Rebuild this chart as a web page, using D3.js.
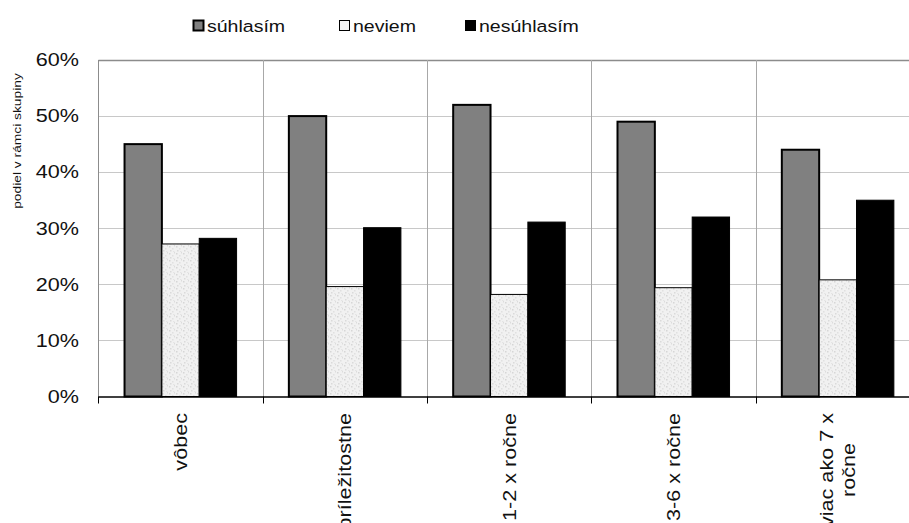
<!DOCTYPE html>
<html>
<head>
<meta charset="utf-8">
<script src="https://cdn.jsdelivr.net/npm/d3@7"></script>
<style>
  body { margin: 0; background: #fff; }
  svg { display: block; font-family: "Liberation Sans", Arial, sans-serif; }
</style>
</head>
<body>
<div id="chart"></div>
<script>
const categories = ['vôbec', 'príležitostne', '1-2 x ročne', '3-6 x ročne', 'viac ako 7 x\nročne'];
const seriesNames = ['súhlasím', 'neviem', 'nesúhlasím'];
const suhlasim = [45, 50, 52, 49, 44];
const neviem = [27.2, 19.6, 18.2, 19.4, 20.8];
const nesuhlasim = [28.2, 30.1, 31.1, 32, 35];
const yTicks = [0, 10, 20, 30, 40, 50, 60];

const width = 909, height = 523;
const plotL = 98.4, plotR = 920, plotT = 60, plotB = 396.5;
const stretch = 1.2; // the source text is drawn wide

const svg = d3.select('#chart').append('svg')
  .attr('width', width).attr('height', height);

// speckled light fill for "neviem"
const pat = svg.append('defs').append('pattern')
  .attr('id', 'speckle').attr('patternUnits', 'userSpaceOnUse')
  .attr('width', 7).attr('height', 7);
pat.append('rect').attr('width', 7).attr('height', 7).attr('fill', '#f1f1f1');
[[1, 1, '#d6d6d6'], [4, 3, '#e0e0e0'], [2, 5, '#dadada'], [5, 6, '#e4e4e4'], [6, 0, '#dcdcdc']]
  .forEach(([px, py, c]) => pat.append('rect').attr('x', px).attr('y', py)
    .attr('width', 1.5).attr('height', 1.5).attr('fill', c));

const series = [
  { name: seriesNames[0], values: suhlasim, fill: '#808080', stroke: '#000', sw: 2 },
  { name: seriesNames[1], values: neviem, fill: 'url(#speckle)', stroke: '#000', sw: 1 },
  { name: seriesNames[2], values: nesuhlasim, fill: '#000', stroke: '#000', sw: 1 },
];

const x0 = d3.scaleBand().domain(categories).range([plotL, plotR]).padding(0);
const x1 = d3.scaleBand().domain(seriesNames).range([0, x0.bandwidth()])
  .paddingInner(0).paddingOuter(0.7);
const y = d3.scaleLinear().domain([0, 60]).range([plotB, plotT]);

// horizontal gridlines
svg.append('g').selectAll('line').data(yTicks.filter(t => t > 0)).join('line')
  .attr('x1', plotL).attr('x2', plotR)
  .attr('y1', d => Math.round(y(d)) + 0.5).attr('y2', d => Math.round(y(d)) + 0.5)
  .attr('stroke', d => d === 60 ? '#8c8c8c' : '#c8c8c8').attr('stroke-width', d => d === 60 ? 1.5 : 1);

// vertical gridlines at category boundaries
svg.append('g').selectAll('line').data(categories.slice(1)).join('line')
  .attr('x1', d => Math.round(x0(d)) + 0.5).attr('x2', d => Math.round(x0(d)) + 0.5)
  .attr('y1', plotT).attr('y2', plotB)
  .attr('stroke', '#a8a8a8');

// y axis line
svg.append('line')
  .attr('x1', Math.round(plotL) + 0.5).attr('x2', Math.round(plotL) + 0.5)
  .attr('y1', plotT).attr('y2', plotB)
  .attr('stroke', '#8c8c8c');

// bars
const groups = svg.append('g').selectAll('g').data(series).join('g');
groups.selectAll('rect').data(s => s.values.map((v, i) => ({ s, v, cat: categories[i] }))).join('rect')
  .attr('x', d => x0(d.cat) + x1(d.s.name))
  .attr('y', d => y(d.v))
  .attr('width', x1.bandwidth())
  .attr('height', d => plotB - y(d.v))
  .attr('fill', d => d.s.fill)
  .attr('stroke', d => d.s.stroke)
  .attr('stroke-width', d => d.s.sw);

// x axis
svg.append('line')
  .attr('x1', plotL).attr('x2', plotR)
  .attr('y1', plotB + 0.5).attr('y2', plotB + 0.5)
  .attr('stroke', '#000').attr('stroke-width', 1.3);
svg.append('g').selectAll('line').data(categories).join('line')
  .attr('x1', d => Math.round(x0(d)) + 0.5).attr('x2', d => Math.round(x0(d)) + 0.5)
  .attr('y1', plotB).attr('y2', plotB + 7)
  .attr('stroke', '#000');

// y tick labels
svg.append('g').selectAll('text').data(yTicks).join('text')
  .attr('transform', d => `translate(79,${y(d)}) scale(${stretch},1)`)
  .attr('dy', '0.35em')
  .attr('text-anchor', 'end')
  .attr('font-size', 18)
  .attr('fill', '#111')
  .text(d => d + '%');

// x category labels, rotated; multi-line ones centred on the longest line
const labelTop = 413;
svg.append('g').selectAll('text').data(categories).join('text')
  .each(function(d) {
    const lines = d.split('\n');
    const t = d3.select(this).attr('font-size', 18).attr('fill', '#111');
    const cx = x0(d) + x0.bandwidth() / 2;
    if (lines.length === 1) {
      t.attr('text-anchor', 'end').attr('dy', '0.35em').text(d)
        .attr('transform', `translate(${cx},${labelTop}) rotate(-90) scale(${stretch},1)`);
      return;
    }
    t.attr('text-anchor', 'middle');
    lines.forEach((ln, i) => {
      t.append('tspan').attr('x', 0)
        .attr('dy', i === 0 ? `${0.35 - (lines.length - 1) * 0.62}em` : '1.25em')
        .text(ln);
    });
    const maxLen = d3.max(t.selectAll('tspan').nodes(), n => n.getComputedTextLength()) * stretch;
    t.attr('transform', `translate(${cx},${labelTop + maxLen / 2}) rotate(-90) scale(${stretch},1)`);
  });

// y axis title
svg.append('text')
  .attr('transform', `translate(17,141) rotate(-90) scale(${stretch},1)`)
  .attr('text-anchor', 'middle').attr('dy', '0.35em')
  .attr('font-size', 11.5)
  .attr('fill', '#111')
  .text('podiel  v rámci skupiny');

// legend
const legendItems = [
  { name: seriesNames[0], x: 193, fill: '#808080', stroke: '#000', sw: 2 },
  { name: seriesNames[1], x: 339, fill: '#f4f4f4', stroke: '#000', sw: 1 },
  { name: seriesNames[2], x: 465, fill: '#000', stroke: '#000', sw: 1 },
];
const lg = svg.append('g').selectAll('g').data(legendItems).join('g')
  .attr('transform', d => `translate(${d.x},20)`);
lg.append('rect').attr('x', 0.5).attr('y', 0.5).attr('width', 10).attr('height', 10)
  .attr('fill', d => d.fill).attr('stroke', d => d.stroke).attr('stroke-width', d => d.sw);
lg.append('text')
  .attr('transform', 'translate(14,11.5) scale(1.15,1)')
  .attr('font-size', 17)
  .attr('fill', '#111')
  .text(d => d.name);
</script>
</body>
</html>
